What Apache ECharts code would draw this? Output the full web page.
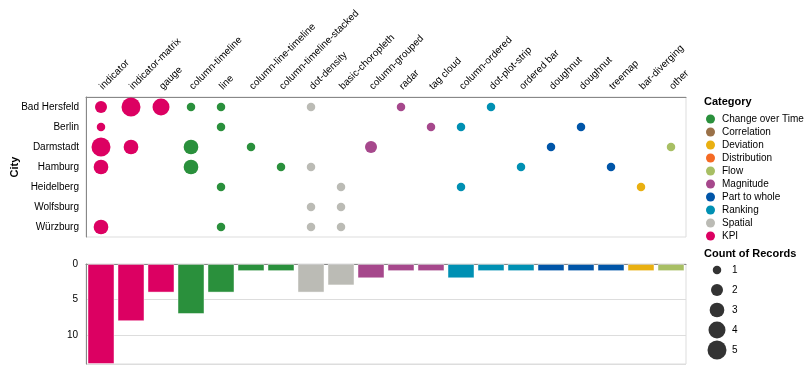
<!DOCTYPE html>
<html>
<head>
<meta charset="utf-8">
<script src="https://cdn.jsdelivr.net/npm/echarts@6/dist/echarts.min.js"></script>
<style>html,body{margin:0;padding:0;background:#fff}#c{width:810px;height:370px}</style>
</head>
<body>
<div id="c"></div>
<script>
const cities = ['Bad Hersfeld','Berlin','Darmstadt','Hamburg','Heidelberg','Wolfsburg','Würzburg'];
const chartTypes = ['indicator','indicator-matrix','gauge','column-timeline','line','column-line-timeline','column-timeline-stacked','dot-density','basic-choropleth','column-grouped','radar','tag cloud','column-ordered','dot-plot-strip','ordered bar','doughnut','doughnut','treemap','bar-diverging','other'];
const typeCategory = ['KPI','KPI','KPI','Change over Time','Change over Time','Change over Time','Change over Time','Spatial','Spatial','Magnitude','Magnitude','Magnitude','Ranking','Ranking','Ranking','Part to whole','Part to whole','Part to whole','Deviation','Flow'];
const categories = ['Change over Time','Correlation','Deviation','Distribution','Flow','Magnitude','Part to whole','Ranking','Spatial','KPI'];
const categoryColors = ['#2a903c','#9a7148','#e9b011','#f56a24','#a8bf64','#a6488c','#0055a8','#0090b3','#bbbbb5','#dc0062'];
// [city, chart type index, count of records]
const records = [
  ['Bad Hersfeld',0,2],['Bad Hersfeld',1,5],['Bad Hersfeld',2,4],['Bad Hersfeld',3,1],['Bad Hersfeld',4,1],['Bad Hersfeld',7,1],['Bad Hersfeld',10,1],['Bad Hersfeld',13,1],
  ['Berlin',0,1],['Berlin',4,1],['Berlin',11,1],['Berlin',12,1],['Berlin',16,1],
  ['Darmstadt',0,5],['Darmstadt',1,3],['Darmstadt',3,3],['Darmstadt',5,1],['Darmstadt',9,2],['Darmstadt',15,1],['Darmstadt',19,1],
  ['Hamburg',0,3],['Hamburg',3,3],['Hamburg',6,1],['Hamburg',7,1],['Hamburg',14,1],['Hamburg',17,1],
  ['Heidelberg',4,1],['Heidelberg',8,1],['Heidelberg',12,1],['Heidelberg',18,1],
  ['Wolfsburg',7,1],['Wolfsburg',8,1],
  ['Würzburg',0,3],['Würzburg',4,1],['Würzburg',7,1],['Würzburg',8,1]
];
const sizeLegendValues = [1,2,3,4,5];
const yTickLabels = [0,5,10];

const FONT = 'Liberation Sans, Arial, Helvetica, sans-serif';
const colorOf = c => categoryColors[categories.indexOf(c)];
const sizeOf = v => 2 * Math.sqrt(v / 5 * 90);

const totals = chartTypes.map((t, i) => records.filter(r => r[1] === i).reduce((s, r) => s + r[2], 0));

const scatterSeries = categories.map(cat => ({
  type: 'scatter', name: cat, xAxisIndex: 0, yAxisIndex: 0,
  itemStyle: { color: colorOf(cat), opacity: 1 },
  symbolSize: d => sizeOf(d[2]),
  data: records.filter(r => typeCategory[r[1]] === cat).map(r => [r[1], cities.indexOf(r[0]), r[2]])
}));

const chart = echarts.init(document.getElementById('c'), null, { renderer: 'canvas' });
chart.setOption({
  animation: false,
  textStyle: { fontFamily: FONT },
  title: [
    { text: 'Category', left: 704, top: 96, padding: 0, textStyle: { fontSize: 11, fontWeight: 'bold', color: '#000', fontFamily: FONT } },
    { text: 'Count of Records', left: 704, top: 248, padding: 0, textStyle: { fontSize: 11, fontWeight: 'bold', color: '#000', fontFamily: FONT } }
  ],
  legend: {
    data: categories, orient: 'vertical', left: 706, top: 114, padding: 0,
    icon: 'circle', itemWidth: 9, itemHeight: 9, itemGap: 3, selectedMode: false,
    textStyle: { fontSize: 10, color: '#000', fontFamily: FONT, padding: [0, 0, 0, 2] }
  },
  grid: [
    { left: 86, top: 97, width: 600, height: 140, show: true, borderColor: '#ddd', borderWidth: 1, containLabel: false, outerBoundsMode: 'none' },
    { left: 86, top: 264, width: 600, height: 100, show: true, borderColor: '#ddd', borderWidth: 1, containLabel: false, outerBoundsMode: 'none' },
    { left: 706, top: 260, width: 22, height: 100, containLabel: false, outerBoundsMode: 'none' }
  ],
  xAxis: [
    { gridIndex: 0, type: 'category', data: chartTypes, position: 'top', boundaryGap: true,
      axisLine: { lineStyle: { color: '#888' } },
      axisTick: { alignWithLabel: true, length: 5, lineStyle: { color: '#888' } },
      axisLabel: { interval: 0, rotate: -45, fontSize: 10, color: '#000', margin: 9, fontFamily: FONT },
      splitLine: { show: false } },
    { gridIndex: 1, type: 'category', data: chartTypes, position: 'bottom', boundaryGap: true,
      axisLine: { lineStyle: { color: '#888' } }, axisTick: { show: false }, axisLabel: { show: false } },
    { gridIndex: 2, type: 'value', min: 0, max: 1, show: false }
  ],
  yAxis: [
    { gridIndex: 0, type: 'category', data: cities, inverse: true, boundaryGap: true,
      name: 'City', nameLocation: 'middle', nameGap: 66, nameRotate: 90, nameMoveOverlap: false,
      nameTextStyle: { fontSize: 11, fontWeight: 'bold', color: '#000', fontFamily: FONT },
      axisLine: { lineStyle: { color: '#888' } },
      axisTick: { alignWithLabel: true, length: 5, lineStyle: { color: '#888' } },
      axisLabel: { fontSize: 10, color: '#000', margin: 7, fontFamily: FONT } },
    { gridIndex: 1, type: 'value', inverse: true, min: 0, max: 14, interval: 5,
      axisLine: { show: true, lineStyle: { color: '#888' } }, axisTick: { show: false },
      axisLabel: { fontSize: 10, color: '#000', margin: 8, showMaxLabel: false, fontFamily: FONT,
        formatter: v => yTickLabels.includes(v) ? String(v) : '' },
      splitLine: { lineStyle: { color: '#ddd' } } },
    { gridIndex: 2, type: 'category', data: sizeLegendValues.map(String), inverse: true, position: 'right',
      axisLine: { show: false }, axisTick: { show: false },
      axisLabel: { fontSize: 10, color: '#000', margin: 4, fontFamily: FONT } }
  ],
  series: [
    ...scatterSeries,
    { type: 'bar', name: 'totals', xAxisIndex: 1, yAxisIndex: 1, barWidth: 27,
      data: totals.map((v, i) => ({ value: v, itemStyle: { color: colorOf(typeCategory[i]) } })),
      itemStyle: { borderColor: 'rgba(255,255,255,0.45)', borderWidth: 1 } },
    { type: 'scatter', name: 'size legend', xAxisIndex: 2, yAxisIndex: 2,
      itemStyle: { color: '#000' }, symbolSize: d => sizeOf(d[2]),
      data: sizeLegendValues.map((v, i) => [0.5, i, v]) }
  ]
});
</script>
</body>
</html>
